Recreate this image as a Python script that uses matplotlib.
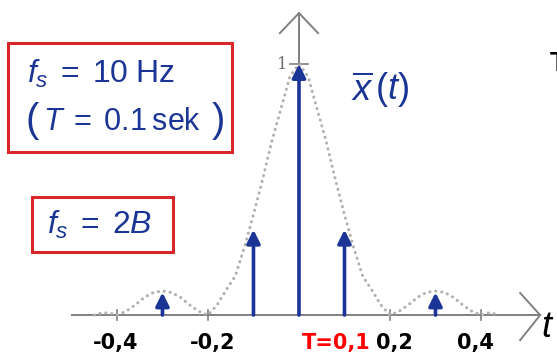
import matplotlib
matplotlib.use('Agg')
import matplotlib.pyplot as plt
from matplotlib.patches import Rectangle

plt.rcParams['font.family'] = ['Liberation Sans', 'DejaVu Sans']
plt.rcParams['mathtext.fontset'] = 'custom'
plt.rcParams['mathtext.rm'] = 'Liberation Sans'
plt.rcParams['mathtext.it'] = 'Liberation Sans:italic'

# dotted envelope x(t)
curve_t = [-0.45, -0.43, -0.41, -0.40, -0.38, -0.36, -0.34, -0.32, -0.30, -0.28,
           -0.26, -0.24, -0.22, -0.20, -0.18, -0.16, -0.14, -0.12, -0.10, -0.08,
           -0.06, -0.04, -0.02, 0.0, 0.02, 0.04, 0.06, 0.08, 0.10, 0.12,
           0.14, 0.16, 0.18, 0.20, 0.22, 0.24, 0.26, 0.28, 0.30, 0.32,
           0.34, 0.36, 0.38, 0.40, 0.42, 0.44]
curve_x = [0.0, 0.01, 0.005, 0.0, 0.015, 0.04, 0.07, 0.09, 0.096, 0.09,
           0.07, 0.04, 0.015, 0.0, 0.04, 0.10, 0.155, 0.27, 0.40, 0.54,
           0.69, 0.82, 0.95, 1.0, 0.95, 0.82, 0.69, 0.54, 0.40, 0.27,
           0.155, 0.10, 0.04, 0.0, 0.015, 0.04, 0.07, 0.09, 0.096, 0.09,
           0.07, 0.04, 0.015, 0.0, 0.01, 0.0]

# samples (T = 0.1)
sample_t = [-0.3, -0.1, 0.0, 0.1, 0.3]
sample_x = [0.09, 0.34, 1.0, 0.34, 0.09]

tick_pos = [-0.4, -0.2, 0.2, 0.4]
tick_txt = ['-0,4', '-0,2', 'T=0,1', '0,2', '0,4']
tick_col = ['black', 'black', 'red', 'black', 'black']
label_pos = [-0.404, -0.189, 0.081, 0.209, 0.387]

blue = '#1b3596'
gray = '#808080'
red = '#d8262b'

fig = plt.figure(figsize=(5.57, 3.61), dpi=100)
ax = fig.add_axes([0, 0, 1, 1])
ax.set_xlim(-0.657, 0.567)
ax.set_ylim(-0.183, 1.255)
ax.axis('off')

# axes
ax.plot([-0.499, 0.53], [0, 0], color=gray, lw=1.4, zorder=1)
ax.plot([0.486, 0.53, 0.486], [0.088, 0, -0.1], color=gray, lw=1.4)
ax.plot([0, 0], [0, 1.203], color=gray, lw=1.4, zorder=1)
ax.plot([-0.042, 0, 0.042], [1.123, 1.203, 1.123], color=gray, lw=1.4)
for p in tick_pos:
    ax.plot([p, p], [-0.02, 0.02], color=gray, lw=1.2)
ax.plot([-0.02, 0.02], [1.0, 1.0], color=gray, lw=1.2)
ax.text(-0.036, 1.0, '1', fontsize=12, color='#707070', family='DejaVu Serif',
        ha='center', va='center')

# envelope
ax.plot(curve_t, curve_x, color='#b0b0b0', lw=2.2, ls=(0, (0.05, 1.9)),
        dash_capstyle='round', zorder=2)

# sample arrows
for t, h in zip(sample_t, sample_x):
    ax.annotate('', xy=(t, h), xytext=(t, 0),
                arrowprops=dict(arrowstyle='-|>', color=blue, lw=2.6,
                                mutation_scale=20, shrinkA=0, shrinkB=0),
                zorder=3)

# handwritten tick labels
for p, s, c in zip(label_pos, tick_txt, tick_col):
    ax.text(p, -0.112, s, fontsize=15, color=c, weight='bold',
            ha='center', va='center', family='DejaVu Sans')
ax.text(0.532, -0.05, 't', fontsize=26, style='italic', ha='left', va='center')
ax.text(0.552, 1.0, 'T', fontsize=20, weight='bold', ha='left', va='center')

# x-bar label
ax.text(0.115, 0.9, r'$\overline{x}\,(t)$', fontsize=26, color=blue,
        ha='left', va='center')

# boxes
ax.add_patch(Rectangle((-0.64, 0.648), 0.492, 0.434, fill=False,
                       edgecolor=red, lw=2.2))
ax.text(-0.598, 0.96, r'$f_s\;=\;10\;\mathrm{Hz}$', fontsize=23, color=blue,
        ha='left', va='center')
ax.text(-0.60, 0.775, '(', fontsize=29, color=blue, ha='left', va='center')
ax.text(-0.563, 0.77, r'$T\;=\;0.1\:\mathrm{sek}$', fontsize=22, color=blue,
        ha='left', va='center')
ax.text(-0.192, 0.775, ')', fontsize=29, color=blue, ha='left', va='center')

ax.add_patch(Rectangle((-0.587, 0.251), 0.31, 0.219, fill=False,
                       edgecolor=red, lw=2.2))
ax.text(-0.438, 0.36, r'$f_s\;=\;2B$', fontsize=23, color=blue,
        ha='center', va='center')

fig.savefig('out.png', dpi=100)
